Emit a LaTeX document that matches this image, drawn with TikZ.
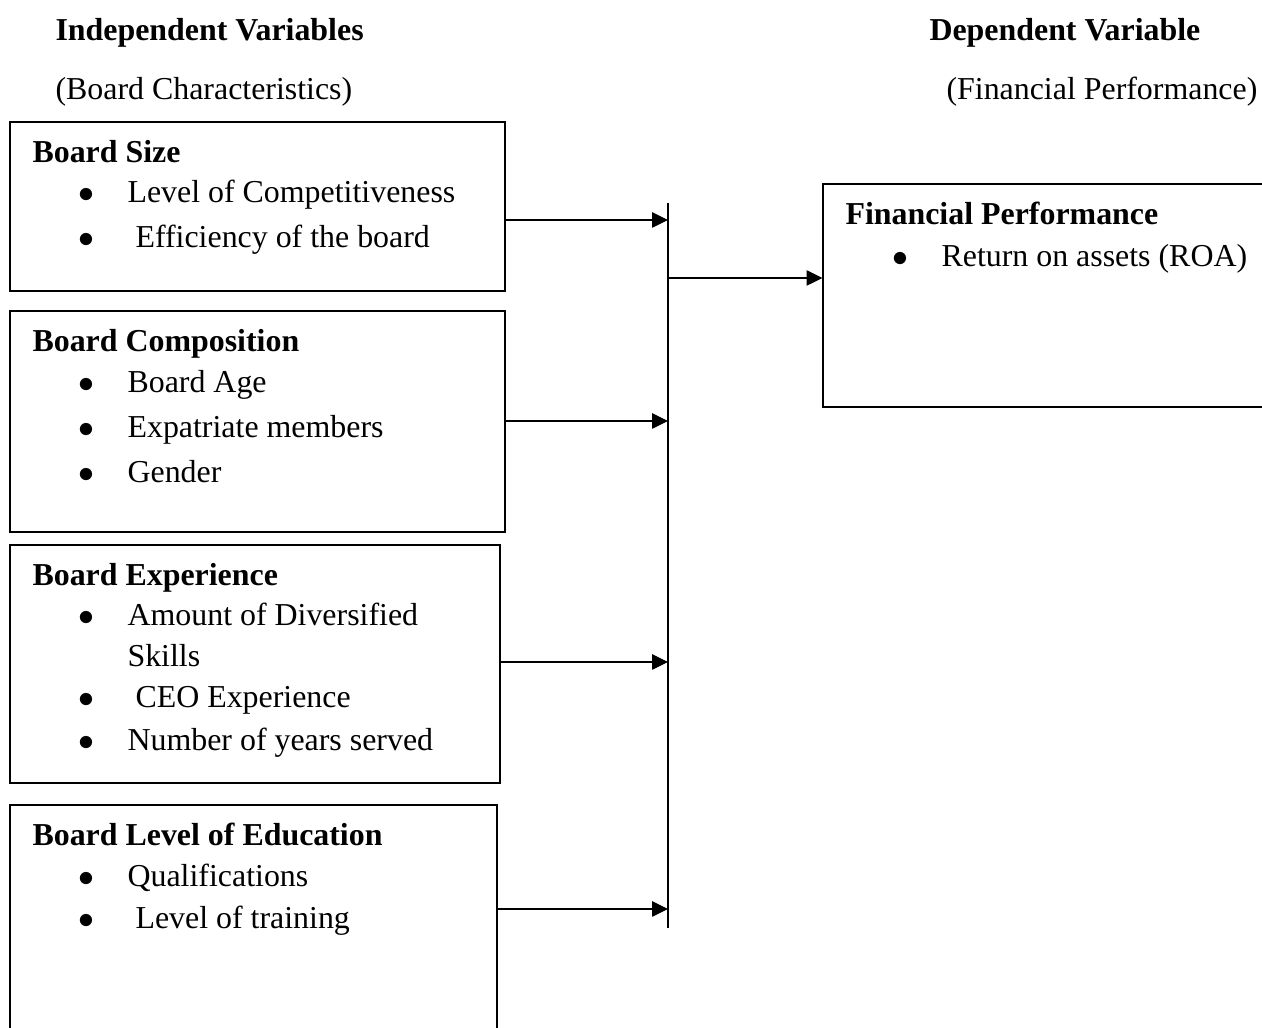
\documentclass[tikz,border=0pt]{standalone}
\usepackage{fontspec}
\setmainfont{Liberation Serif}
\usetikzlibrary{
        arrows.meta,
        fit,
        positioning
    }
\tikzset{>={Triangle[length=6pt,width=5.8pt]},line width=0.75pt}
\tikzset{
    txt/.style={anchor=base west,inner sep=0pt,font=\fontsize{12pt}{14pt}\selectfont},
    head/.style={txt,font=\fontsize{12pt}{14pt}\selectfont\bfseries},
    varbox/.style={draw,rectangle,inner sep=0pt}
}
% bullet point with the gap before the item text
\newcommand{\bul}[1][0pt]{\makebox[17.7pt][l]{\hspace{-0.6pt}$\bullet$}\hspace{#1}}

\begin{document}
\begin{tikzpicture}[x=0.3762pt,y=-0.3762pt]
                \useasboundingbox[clip] (0,0) rectangle (1262,1028);
                % titles
                \node[head] (indep)    at (55,41)   {Independent Variables};
                \node[head] (dep)      at (929,41)  {Dependent Variable};
                \node[txt]  (indepsub) at (55,100)  {(Board Characteristics)};
                \node[txt]  (depsub)   at (946,100) {(Financial Performance)};
                % boxes
                \node[varbox,fit={(10,122) (505,291)}]   (sizebox) {};
                \node[varbox,fit={(10,311) (505,532)}]   (compbox) {};
                \node[varbox,fit={(10,545) (500,783)}]   (expbox)  {};
                \node[varbox,fit={(10,805) (497,1045)}]  (edubox)  {};
                \node[varbox,fit={(823,184) (1280,407)}] (finbox)  {};
                % board size
                \node[head] (size)  at (32,163)  {Board Size};
                \node[txt]  (size1) at (80,203)  {\bul Level of Competitiveness};
                \node[txt]  (size2) at (80,248)  {\bul[3pt]Efficiency of the board};
                % board composition
                \node[head] (comp)  at (32,352)  {Board Composition};
                \node[txt]  (comp1) at (80,393)  {\bul Board Age};
                \node[txt]  (comp2) at (80,438)  {\bul Expatriate members};
                \node[txt]  (comp3) at (80,483)  {\bul Gender};
                % board experience
                \node[head] (exp)   at (32,586)  {Board Experience};
                \node[txt]  (exp1)  at (80,626)  {\bul Amount of Diversified};
                \node[txt]  (exp1b) at (127,667) {Skills};
                \node[txt]  (exp2)  at (80,708)  {\bul[3pt]CEO Experience};
                \node[txt]  (exp3)  at (80,751)  {\bul Number of years served};
                % board level of education
                \node[head] (edu)   at (32,846)  {Board Level of Education};
                \node[txt]  (edu1)  at (80,887)  {\bul Qualifications};
                \node[txt]  (edu2)  at (80,929)  {\bul[3pt]Level of training};
                % financial performance
                \node[head] (fin)   at (845,225) {Financial Performance};
                \node[txt]  (fin1)  at (894,267) {\bul Return on assets (ROA)};
                % collecting line
                \coordinate (bartop) at (668,203);
                \coordinate (barbot) at (668,928);
                \draw (bartop) -- (barbot);
                \path[->]
                    (sizebox.east |- 0,220) edge (bartop |- 0,220)
                    (compbox.east |- 0,421) edge (bartop |- 0,421)
                    (expbox.east |- 0,662)  edge (bartop |- 0,662)
                    (edubox.east |- 0,909)  edge (bartop |- 0,909)
                    (bartop |- 0,278)       edge (finbox.west |- 0,278)
                ;
            \end{tikzpicture}
\end{document}
